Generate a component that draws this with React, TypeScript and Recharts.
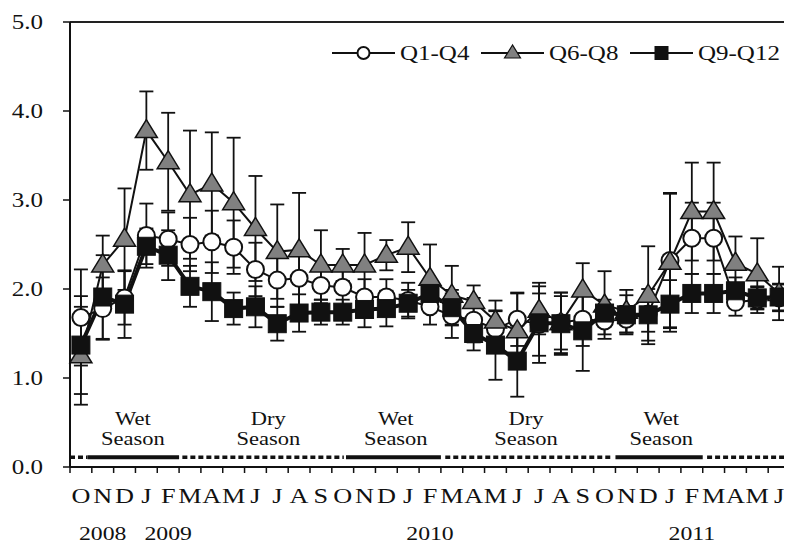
import React from 'react';
import { LineChart, Line, XAxis, YAxis, ErrorBar, ReferenceLine, ReferenceDot, Legend } from 'recharts';

const months = ['O','N','D','J','F','M','A','M','J','J','A','S','O','N','D','J','F','M','A','M','J','J','A','S','O','N','D','J','F','M','A','M','J'];
// index of the month under which each year label is centred
const yearLabels: Record<number, string> = { 1: '2008', 4: '2009', 16: '2010', 28: '2011' };

const q1q4 = [1.68,1.78,1.9,2.6,2.56,2.5,2.53,2.47,2.22,2.1,2.12,2.04,2.02,1.91,1.91,1.87,1.8,1.7,1.65,1.55,1.66,1.6,1.62,1.66,1.64,1.66,1.72,2.32,2.57,2.57,1.85,1.88,1.9];
const q6q8 = [1.25,2.27,2.56,3.78,3.43,3.06,3.18,2.97,2.68,2.42,2.44,2.27,2.27,2.27,2.38,2.47,2.12,1.93,1.86,1.64,1.53,1.76,1.62,1.99,1.82,1.75,1.93,2.3,2.87,2.87,2.29,2.17,1.95];
const q9q12 = [1.37,1.91,1.83,2.48,2.38,2.03,1.97,1.78,1.8,1.61,1.73,1.74,1.74,1.77,1.78,1.84,1.95,1.79,1.5,1.37,1.19,1.62,1.61,1.53,1.73,1.71,1.71,1.83,1.95,1.95,1.98,1.9,1.91];

const err1q4 = [0.54,0.35,0.3,0.36,0.3,0.3,0.35,0.3,0.3,0.3,0.3,0.2,0.2,0.2,0.2,0.2,0.2,0.25,0.25,0.2,0.3,0.35,0.3,0.3,0.15,0.15,0.2,0.75,0.4,0.4,0.15,0.15,0.15];
const err6q8 = [0.55,0.33,0.57,0.44,0.55,0.72,0.58,0.73,0.59,0.53,0.64,0.39,0.18,0.36,0.17,0.28,0.38,0.33,0.18,0.23,0.42,0.27,0.34,0.3,0.38,0.24,0.55,0.78,0.55,0.55,0.3,0.4,0.3];
const err9q12 = [0.55,0.47,0.38,0.2,0.28,0.23,0.33,0.18,0.23,0.19,0.21,0.14,0.14,0.2,0.2,0.15,0.12,0.2,0.19,0.39,0.4,0.45,0.35,0.45,0.15,0.22,0.29,0.27,0.22,0.22,0.15,0.12,0.15];

const yTicks = [0, 1, 2, 3, 4, 5];

const seasonBars = [
  { from: 0, to: 0.8, kind: 'dry' },
  { from: 0.8, to: 5, kind: 'wet' },
  { from: 5.15, to: 12.55, kind: 'dry' },
  { from: 12.65, to: 17, kind: 'wet' },
  { from: 17.2, to: 24.85, kind: 'dry' },
  { from: 25, to: 29, kind: 'wet' },
  { from: 29.2, to: 33, kind: 'dry' },
];
const seasonBarLevel = 0.11;

const seasonLabels = [
  { x: 2.88, top: 'Wet', bottom: 'Season' },
  { x: 9.09, top: 'Dry', bottom: 'Season' },
  { x: 14.93, top: 'Wet', bottom: 'Season' },
  { x: 20.9, top: 'Dry', bottom: 'Season' },
  { x: 27.1, top: 'Wet', bottom: 'Season' },
];
const seasonLabelLevel = 0.25;

const data = months.map((m, i) => ({
  x: i + 0.5,
  month: m,
  q14: q1q4[i],
  q68: q6q8[i],
  q912: q9q12[i],
  e14: err1q4[i],
  e68: err6q8[i],
  e912: err9q12[i],
}));

const xTicks = Array.from({ length: months.length * 2 + 1 }, (_, k) => k / 2);

const FONT = '"Liberation Serif", "Times New Roman", serif';
const SX = 1.25;
const INK = '#111';
const GREY = '#808080';

const SText = ({ x, y, anchor = 'middle', size = 20, children }: any) => (
  <text transform={`translate(${x},${y}) scale(${SX},1)`} textAnchor={anchor} fontFamily={FONT} fontSize={size} fill={INK}>
    {children}
  </text>
);

const YTick = ({ x, y, payload }: any) => (
  <g>
    <text transform={`translate(${x},${y}) scale(${SX},1)`} textAnchor="end" dy="0.35em" fontFamily={FONT} fontSize={20} fill={INK}>
      {Number(payload.value).toFixed(1)}
    </text>
  </g>
);

const MonthTick = ({ x, y, payload }: any) => {
  const v = Number(payload.value);
  if (Number.isInteger(v)) {
    return <line x1={x} y1={y} x2={x} y2={y + 6} stroke={INK} strokeWidth={1.5} />;
  }
  const i = Math.floor(v);
  const year = yearLabels[i];
  return (
    <g>
      <SText x={x} y={y + 36} size={21}>{months[i]}</SText>
      {year ? <SText x={x} y={y + 73} size={19}>{year}</SText> : null}
    </g>
  );
};

const Triangle = (props: any) => {
  const { cx, cy, index } = props;
  if (cx == null || cy == null) return <g key={`t-${index}`} />;
  return (
    <path key={`t-${index}`} d={`M${cx},${cy - 11}L${cx - 11},${cy + 7}L${cx + 11},${cy + 7}Z`} fill={GREY} stroke={INK} strokeWidth={1.5} />
  );
};

const Square = (props: any) => {
  const { cx, cy, index } = props;
  if (cx == null || cy == null) return <g key={`s-${index}`} />;
  return <rect key={`s-${index}`} x={cx - 9} y={cy - 9} width={18} height={18} fill={INK} stroke={INK} strokeWidth={1} />;
};

const legendItems = [
  { label: 'Q1-Q4', shape: 'circle' },
  { label: 'Q6-Q8', shape: 'triangle' },
  { label: 'Q9-Q12', shape: 'square' },
];

const LegendContent = () => {
  const step = 149;
  return (
    <svg width={470} height={30} style={{ display: 'block' }}>
      {legendItems.map((it, k) => {
        const x0 = k * step;
        const mx = x0 + 31.5;
        const cy = 15;
        return (
          <g key={it.label}>
            <line x1={x0} y1={cy} x2={x0 + 63} y2={cy} stroke={INK} strokeWidth={2} />
            {it.shape === 'circle' && <circle cx={mx} cy={cy} r={6} fill="#fff" stroke={INK} strokeWidth={2} />}
            {it.shape === 'triangle' && (
              <path d={`M${mx},${cy - 8}L${mx - 8},${cy + 5}L${mx + 8},${cy + 5}Z`} fill={GREY} stroke={INK} strokeWidth={1.2} />
            )}
            {it.shape === 'square' && <rect x={mx - 7} y={cy - 7} width={14} height={14} fill={INK} />}
            <SText x={x0 + 68} y={22} anchor="start" size={20}>{it.label}</SText>
          </g>
        );
      })}
    </svg>
  );
};

const seasonLabelRenderer = (top: string, bottom: string) => (props: any) => {
  const vb = props.viewBox || {};
  const x = vb.x + (vb.width || 0) / 2;
  const y = vb.y + (vb.height || 0) / 2;
  return (
    <g>
      <SText x={x} y={y - 20} size={18}>{top}</SText>
      <SText x={x} y={y} size={18}>{bottom}</SText>
    </g>
  );
};

export default function App() {
  return (
    <LineChart width={784} height={536} data={data} margin={{ top: 14, right: 2, bottom: 0, left: 0 }}>
      <XAxis
        dataKey="x"
        type="number"
        domain={[0, months.length]}
        ticks={xTicks}
        interval={0}
        tick={<MonthTick />}
        tickLine={false}
        tickSize={0}
        tickMargin={0}
        height={77}
        axisLine={{ stroke: INK, strokeWidth: 2 }}
        allowDecimals
      />
      <YAxis
        type="number"
        domain={[0, 5]}
        ticks={yTicks}
        interval={0}
        width={62}
        tick={<YTick />}
        tickSize={7}
        tickMargin={20}
        tickLine={{ stroke: INK, strokeWidth: 1.5 }}
        axisLine={{ stroke: INK, strokeWidth: 2 }}
      />
      <ReferenceLine y={5} stroke="#222" strokeWidth={2} />
      <ReferenceLine x={months.length} stroke="#aaa" strokeWidth={1} />
      {seasonBars.map((b, k) => (
        <ReferenceLine
          key={`sb-${k}`}
          segment={[{ x: b.from, y: seasonBarLevel }, { x: b.to, y: seasonBarLevel }]}
          stroke={INK}
          strokeWidth={b.kind === 'wet' ? 4 : 3.5}
          strokeDasharray={b.kind === 'wet' ? undefined : '5 3'}
        />
      ))}
      {seasonLabels.map((s, k) => (
        <ReferenceDot
          key={`sl-${k}`}
          x={s.x}
          y={seasonLabelLevel}
          r={0}
          fill="none"
          stroke="none"
          label={seasonLabelRenderer(s.top, s.bottom)}
        />
      ))}
      <Legend
        verticalAlign="middle"
        align="center"
        layout="horizontal"
        content={<LegendContent />}
        wrapperStyle={{ top: 30, left: 324, width: 470 }}
      />
      <Line
        dataKey="q14"
        name="Q1-Q4"
        stroke={INK}
        strokeWidth={2}
        isAnimationActive={false}
        dot={{ r: 8.5, fill: '#fff', stroke: INK, strokeWidth: 2 }}
        activeDot={false}
      >
        <ErrorBar dataKey="e14" width={7} stroke={INK} strokeWidth={1.8} direction="y" />
      </Line>
      <Line
        dataKey="q68"
        name="Q6-Q8"
        stroke={INK}
        strokeWidth={2}
        isAnimationActive={false}
        dot={Triangle}
        activeDot={false}
      >
        <ErrorBar dataKey="e68" width={7} stroke={INK} strokeWidth={1.8} direction="y" />
      </Line>
      <Line
        dataKey="q912"
        name="Q9-Q12"
        stroke={INK}
        strokeWidth={4}
        isAnimationActive={false}
        dot={Square}
        activeDot={false}
      >
        <ErrorBar dataKey="e912" width={7} stroke={INK} strokeWidth={1.8} direction="y" />
      </Line>
    </LineChart>
  );
}
